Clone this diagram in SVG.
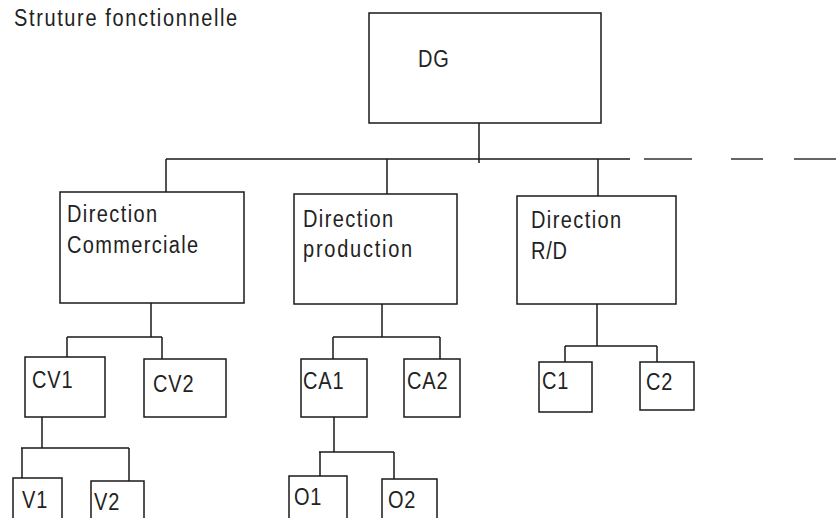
<svg xmlns="http://www.w3.org/2000/svg" width="836" height="518" viewBox="0 0 836 518">
<style>
.box{fill:#fff;stroke:#1a1a1a;stroke-width:1.5}
.ln{fill:none;stroke:#1a1a1a;stroke-width:1.5}
.dash{fill:none;stroke:#333;stroke-width:1.5}
text{font-family:"Liberation Sans",Arial,sans-serif;font-size:20px;fill:#222;letter-spacing:0.8px}
</style>
<rect width="836" height="518" fill="#fff"/>
<text transform="translate(14,26) scale(1,1.15)" textLength="224">Struture fonctionnelle</text>
<g id="connectors">
<path class="ln" d="M479 123V163M166 159H630M166 159V192M387 159V194M598 159V196"/>
<path class="dash" d="M644 159H692M731 159H763M794 159H836"/>
<path class="ln" d="M151 303V337M67 337H162M67 337V357M162 337V359"/>
<path class="ln" d="M42 417V448M21 448H129M22 448V478M129 448V481"/>
<path class="ln" d="M382 304V337M333 337H440M333 337V359M440 337V359"/>
<path class="ln" d="M334 417V452M319 452H394M320 452V476M394 452V479"/>
<path class="ln" d="M597 304V346M565 346H657M565 346V362M657 346V362"/>
</g>
<g id="dg"><rect class="box" x="369" y="13" width="232" height="110"/><text transform="translate(418,67) scale(1,1.15)">DG</text></g>
<g id="dir-commerciale"><rect class="box" x="60" y="192" width="184" height="111"/><text transform="translate(67,222) scale(1,1.15)" textLength="91">Direction</text><text transform="translate(67,253) scale(1,1.15)" textLength="132">Commerciale</text></g>
<g id="dir-production"><rect class="box" x="294" y="194" width="163" height="110"/><text transform="translate(303,227) scale(1,1.15)" textLength="91">Direction</text><text transform="translate(303,257) scale(1,1.15)" textLength="110">production</text></g>
<g id="dir-rd"><rect class="box" x="517" y="196" width="159" height="108"/><text transform="translate(531,228) scale(1,1.15)" textLength="91">Direction</text><text transform="translate(531,259) scale(1,1.15)">R/D</text></g>
<g id="cv1"><rect class="box" x="25" y="357" width="80" height="60"/><text transform="translate(32,388) scale(1,1.15)">CV1</text></g>
<g id="cv2"><rect class="box" x="144" y="359" width="82" height="58"/><text transform="translate(153,392) scale(1,1.15)">CV2</text></g>
<g id="ca1"><rect class="box" x="301" y="359" width="66" height="58"/><text transform="translate(303,389) scale(1,1.15)">CA1</text></g>
<g id="ca2"><rect class="box" x="404" y="359" width="56" height="58"/><text transform="translate(407,389) scale(1,1.15)">CA2</text></g>
<g id="c1"><rect class="box" x="539" y="362" width="53" height="50"/><text transform="translate(542,389) scale(1,1.15)">C1</text></g>
<g id="c2"><rect class="box" x="640" y="362" width="54" height="48"/><text transform="translate(646,390) scale(1,1.15)">C2</text></g>
<g id="v1"><rect class="box" x="13" y="478" width="49" height="60"/><text transform="translate(22,508) scale(1,1.15)">V1</text></g>
<g id="v2"><rect class="box" x="91" y="481" width="53" height="60"/><text transform="translate(94,510) scale(1,1.15)">V2</text></g>
<g id="o1"><rect class="box" x="289" y="476" width="58" height="60"/><text transform="translate(294,505) scale(1,1.15)">O1</text></g>
<g id="o2"><rect class="box" x="382" y="479" width="55" height="60"/><text transform="translate(388,508) scale(1,1.15)">O2</text></g>
</svg>
